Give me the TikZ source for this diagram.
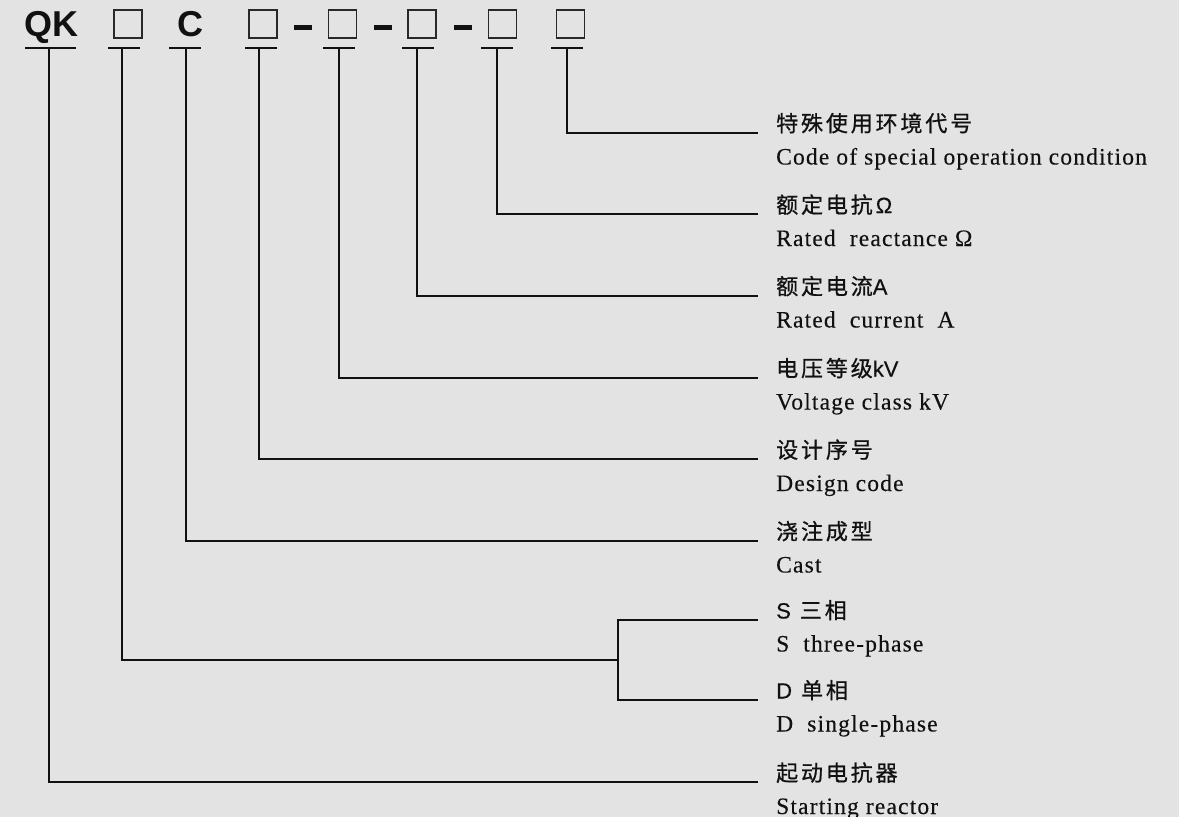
\documentclass[tikz,border=0pt]{standalone}
\usepackage{fontspec}
\setmainfont{Liberation Serif}
\newfontfamily\cjk{Noto Sans CJK SC}[LetterSpace=13,FakeBold=0.8]
\newfontfamily\serifspaced{Liberation Serif}[LetterSpace=5,FakeBold=0.25]
\newfontfamily\headfont{Liberation Sans}
\newfontfamily\unitfont{Liberation Sans}[FakeBold=0.4]
\newcommand{\unit}[1]{{\unitfont #1}}
\definecolor{bgc}{HTML}{E3E3E3}
\definecolor{ink}{HTML}{111111}
\tikzset{
  code/.style={font=\headfont\bfseries\fontsize{36}{36}\selectfont, text=ink, anchor=base, inner sep=0pt},
  slot/.style={draw=ink!90, line width=1.5pt, minimum width=28pt, minimum height=28pt, inner sep=0pt},
  dashbar/.style={fill=ink, minimum width=18pt, minimum height=4.5pt, inner sep=0pt},
  uline/.style={draw=ink, line width=2pt},
  lead/.style={draw=ink, line width=1.7pt},
  zh/.style={font=\cjk\fontsize{22}{22}\selectfont, text=ink, anchor=base west, inner sep=0pt},
  en/.style={font=\serifspaced\fontsize{23.5}{23.5}\selectfont, text=ink, anchor=base west, inner sep=0pt},
}
\begin{document}
\begin{tikzpicture}[x=1pt,y=-1pt]
\fill[bgc] (0,0) rectangle (1179,817);
\useasboundingbox (0,0) rectangle (1179,817);

% model code: QK [] C [] - [] - [] - [] []
\node[code] (qk) at (51,36) {QK};
\node[slot] (b1) at (128,24) {};
\node[code] (c) at (190.5,36) {C};
\node[slot] (b2) at (263,24) {};
\node[dashbar] (d1) at (303,27.5) {};
\node[slot] (b3) at (342.5,24) {};
\node[dashbar] (d2) at (382.5,27.5) {};
\node[slot] (b4) at (422,24) {};
\node[dashbar] (d3) at (462.5,27.5) {};
\node[slot] (b5) at (502.5,24) {};
\node[slot] (b6) at (570.5,24) {};

% underlines below each position of the code
\draw[uline] (25,48) -- (76,48);
\draw[uline] (108,48) -- (140,48);
\draw[uline] (169,48) -- (201,48);
\draw[uline] (245,48) -- (277,48);
\draw[uline] (323,48) -- (355,48);
\draw[uline] (402,48) -- (434,48);
\draw[uline] (481,48) -- (513,48);
\draw[uline] (551,48) -- (583,48);

% tops of the leader lines
\coordinate (u1) at (49,48);
\coordinate (u2) at (122,48);
\coordinate (u3) at (186,48);
\coordinate (u4) at (259,48);
\coordinate (u5) at (339,48);
\coordinate (u6) at (417,48);
\coordinate (u7) at (497,48);
\coordinate (u8) at (567,48);

% right ends of the leader lines
\coordinate (e1) at (758,133);
\coordinate (e2) at (758,214);
\coordinate (e3) at (758,296);
\coordinate (e4) at (758,378);
\coordinate (e5) at (758,459);
\coordinate (e6) at (758,541);
\coordinate (e7) at (758,620);
\coordinate (e8) at (758,700);
\coordinate (e9) at (758,782);
\coordinate (fork) at (618,660);

% labels
\node[zh] (z1) at (776,131.5) {特殊使用环境代号};
\node[en] (t1) at (776,164.5) {Code of special operation condition};
\node[zh] (z2) at (776,213) {额定电抗\hspace{3pt}\unit{Ω}};
\node[en] (t2) at (776,246) {Rated\ \ reactance Ω};
\node[zh] (z3) at (776,294.5) {额定电流\unit{A}};
\node[en] (t3) at (776,327.5) {Rated\ \ current\ \ A};
\node[zh] (z4) at (776,376.5) {电压等级\unit{kV}};
\node[en] (t4) at (776,409.5) {Voltage class kV};
\node[zh] (z5) at (776,458) {设计序号};
\node[en] (t5) at (776,491) {Design code};
\node[zh] (z6) at (776,539.5) {浇注成型};
\node[en] (t6) at (776,572.5) {Cast};
\node[zh] (z7) at (776,618.5) {\unit{S}\hspace{9pt}三相};
\node[en] (t7) at (776,651.5) {S\ \ three-phase};
\node[zh] (z8) at (776,698.5) {\unit{D}\hspace{9pt}单相};
\node[en] (t8) at (776,731.5) {D\ \ single-phase};
\node[zh] (z9) at (776,781) {起动电抗器};
\node[en] (t9) at (776,814) {Starting reactor};

% leaders
\draw[lead] (u8) |- (e1);
\draw[lead] (u7) |- (e2);
\draw[lead] (u6) |- (e3);
\draw[lead] (u5) |- (e4);
\draw[lead] (u4) |- (e5);
\draw[lead] (u3) |- (e6);
\draw[lead] (u2) |- (fork);
\draw[lead] (e7) -| (fork) |- (e8);
\draw[lead] (u1) |- (e9);
\end{tikzpicture}
\end{document}
